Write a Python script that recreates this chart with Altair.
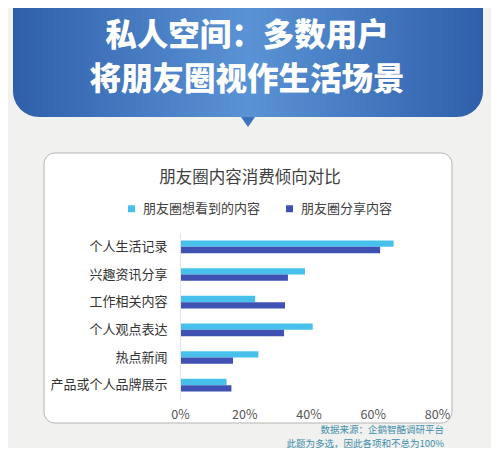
import altair as alt
import pandas as pd

categories = ["个人生活记录", "兴趣资讯分享", "工作相关内容", "个人观点表达", "热点新闻", "产品或个人品牌展示"]
series_names = ["朋友圈想看到的内容", "朋友圈分享内容"]
want_values = [66.5, 38.9, 23.4, 41.3, 24.4, 14.5]
share_values = [62.3, 33.6, 32.7, 32.4, 16.5, 16.0]
x_ticks = [0, 0.2, 0.4, 0.6, 0.8]

banner_line1 = "私人空间：多数用户"
banner_line2 = "将朋友圈视作生活场景"
chart_title = "朋友圈内容消费倾向对比"
footer_line1 = "数据来源：企鹅智酷调研平台"
footer_line2 = "此题为多选，因此各项和不总为100%"

FONT = "Noto Sans CJK SC"
LIGHT = "#47c1ec"
DARK = "#3f52b4"

rows = []
for c, w, s in zip(categories, want_values, share_values):
    rows.append({"cat": c, "series": series_names[0], "v": w / 100})
    rows.append({"cat": c, "series": series_names[1], "v": s / 100})
df = pd.DataFrame(rows)
one = pd.DataFrame({"k": [0]})

gradient = alt.LinearGradient(
    gradient="linear",
    stops=[
        alt.GradientStop(color="#2f5faa", offset=0),
        alt.GradientStop(color="#5a93d5", offset=0.5),
        alt.GradientStop(color="#2f5faa", offset=1),
    ],
    x1=0, x2=1, y1=0, y2=0,
)

banner = alt.Chart(one).mark_rect(fill=gradient, cornerRadius=26).encode(
    x=alt.value(-167), x2=alt.value(303), y=alt.value(-260), y2=alt.value(-116)
)
triangle = alt.Chart(one).mark_point(
    shape="M-1,-0.7L1,-0.7L0,0.7Z", filled=True, fill="#3f72bd", opacity=1, size=196, strokeWidth=0
).encode(x=alt.value(68), y=alt.value(-111))

def banner_text(txt, y):
    return alt.Chart(one).mark_text(
        font=FONT, fontSize=31.5, fontWeight=900, color="#ffffff",
        align="center", baseline="middle"
    ).encode(x=alt.value(67), y=alt.value(y), text=alt.value(txt))

panel = alt.Chart(one).mark_rect(
    fill="#ffffff", stroke="#b5b5b5", strokeWidth=1, cornerRadius=11
).encode(x=alt.value(-136), x2=alt.value(272), y=alt.value(-80), y2=alt.value(190))

title_t = alt.Chart(one).mark_text(
    font=FONT, fontSize=16.5, color="#404040", align="center", baseline="middle"
).encode(x=alt.value(70), y=alt.value(-55), text=alt.value(chart_title))

def footer(txt, y):
    return alt.Chart(one).mark_text(
        font=FONT, fontSize=9.5, color="#3f8fae", align="right", baseline="middle"
    ).encode(x=alt.value(264), y=alt.value(y), text=alt.value(txt))

bars = alt.Chart(df).mark_bar().encode(
    x=alt.X("v:Q", scale=alt.Scale(domain=[0, 0.8], nice=False),
            axis=alt.Axis(values=x_ticks, format=".0%", title=None, domain=False, ticks=False,
                          grid=False, labelFont=FONT, labelFontSize=12.5, labelColor="#555555",
                          labelPadding=9, labelFlush=False, zindex=2)),
    y=alt.Y("cat:N", sort=categories,
            scale=alt.Scale(paddingInner=0.54, paddingOuter=0.27),
            axis=alt.Axis(title=None, ticks=False, domain=True, domainColor="#e4e4e4",
                          labelFont=FONT, labelFontSize=13, labelColor="#333333", labelPadding=13,
                          zindex=1)),
    yOffset=alt.YOffset("series:N", sort=series_names, scale=alt.Scale(paddingInner=0, paddingOuter=0)),
    color=alt.Color("series:N", scale=alt.Scale(domain=series_names, range=[LIGHT, DARK]),
                    legend=alt.Legend(title=None, orient="none", direction="horizontal",
                                      legendX=-55, legendY=-31, padding=0,
                                      symbolType="square", symbolSize=49, symbolStrokeWidth=0,
                                      labelFont=FONT, labelFontSize=13, labelColor="#404040",
                                      labelOffset=5, columnPadding=22)),
)

chart = alt.layer(
    banner, triangle, banner_text(banner_line1, -196), banner_text(banner_line2, -152),
    panel, title_t, bars, footer(footer_line1, 197), footer(footer_line2, 210.5)
).properties(
    width=257, height=166,
    padding={"left": 172, "top": 225, "right": 54, "bottom": 49},
    autosize=alt.AutoSizeParams(type="none"),
    background="#f1f1ef",
).configure_view(stroke=None)

chart.save("out.html", embed_options={"renderer": "svg", "actions": False})
